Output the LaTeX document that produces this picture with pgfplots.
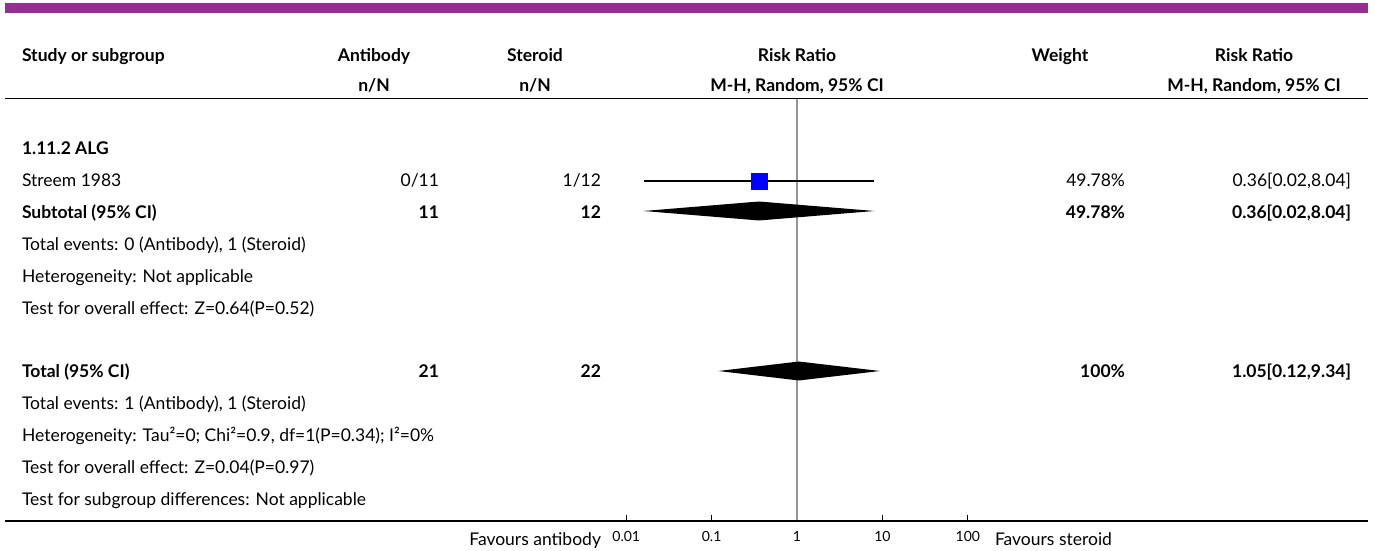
\documentclass[border=0pt]{standalone}
\usepackage{fontspec}
\setmainfont{Lato}
\usepackage{pgfplots}
\pgfplotsset{compat=1.18}
\definecolor{cpurple}{HTML}{962D91}
\definecolor{vline}{RGB}{150,150,150}
\begin{document}
\begin{tikzpicture}
\begin{axis}[name=ax, at={(0,0)}, anchor=south west,
  xmode=log, xmin=4.65e-10, xmax=5.86e6, ymin=0, ymax=521,
  width=687.5pt, height=260.5pt, scale only axis, clip=false,
  axis line style={draw=none}, hide y axis,
  xtick pos=bottom, tick align=inside, major tick length=3pt,
  xminorticks=false,
  xtick={0.01,0.1,1,10,100}, xticklabels={0.01,0.1,1,10,100},
  xtick style={black, line width=0.5pt},
  xticklabel style={font=\fontsize{7pt}{8pt}\selectfont, yshift=-1.5pt},
]
% reference line at RR = 1
\addplot[vline, line width=0.6pt] coordinates {(1,0) (1,422)};
% Streem 1983
\addplot[black, line width=0.6pt] coordinates {(0.016,340) (8.04,340)};
\addplot[only marks, mark=square*, mark size=4pt, mark options={fill=blue, draw=blue}] coordinates {(0.36,340)};
\addplot[black, line width=0.5pt] coordinates {(0.36,335.5) (0.36,344.5)};
% Subtotal diamond
\addplot[fill=black, draw=none] coordinates {(0.016,310) (0.36,319.5) (8.04,310) (0.36,300.5)} -- cycle;
% Total diamond
\addplot[fill=black, draw=none] coordinates {(0.12,150) (1.05,159.5) (9.34,150) (1.05,140.5)} -- cycle;
\end{axis}
\begin{scope}[shift={(ax.north west)}, x=0.5pt, y=-0.5pt,
  every node/.style={inner sep=0pt, outer sep=0pt, font=\fontsize{8.75pt}{10.5pt}\selectfont}]
\fill[cpurple] (5,3) rectangle (1368,13);
\draw[black, line width=0.6pt] (5,98.5) -- (1368,98.5);
\draw[black, line width=0.6pt] (5,521) -- (1368,521);
\draw[black, line width=1pt] (617,521) -- (972,521);
% header
\node[anchor=base west] at (22,62) {\bfseries Study or subgroup};
\node[anchor=base] at (374,62) {\bfseries Antibody};
\node[anchor=base] at (374,92) {\bfseries n/N};
\node[anchor=base] at (535,62) {\bfseries Steroid};
\node[anchor=base] at (535,92) {\bfseries n/N};
\node[anchor=base] at (797,62) {\bfseries Risk Ratio};
\node[anchor=base] at (797,92) {\bfseries M-H, Random, 95\% CI};
\node[anchor=base] at (1060,62) {\bfseries Weight};
\node[anchor=base] at (1254,62) {\bfseries Risk Ratio};
\node[anchor=base] at (1254,92) {\bfseries M-H, Random, 95\% CI};
% rows
\node[anchor=base west] at (22,155) {\bfseries 1.11.2 ALG};
\node[anchor=base west] at (22,187) {Streem 1983};
\node[anchor=base east] at (439,187) {0/11};
\node[anchor=base east] at (601,187) {1/12};
\node[anchor=base east] at (1125,187) {49.78\%};
\node[anchor=base east] at (1351,187) {0.36[0.02,8.04]};
\node[anchor=base west] at (22,219) {\bfseries Subtotal (95\% CI)};
\node[anchor=base east] at (439,219) {\bfseries 11};
\node[anchor=base east] at (601,219) {\bfseries 12};
\node[anchor=base east] at (1125,219) {\bfseries 49.78\%};
\node[anchor=base east] at (1351,219) {\bfseries 0.36[0.02,8.04]};
\node[anchor=base west] at (22,251) {Total events: 0 (Antibody), 1 (Steroid)};
\node[anchor=base west] at (22,283) {Heterogeneity: Not applicable};
\node[anchor=base west] at (22,315) {Test for overall effect: Z=0.64(P=0.52)};
\node[anchor=base west] at (22,378) {\bfseries Total (95\% CI)};
\node[anchor=base east] at (439,378) {\bfseries 21};
\node[anchor=base east] at (601,378) {\bfseries 22};
\node[anchor=base east] at (1125,378) {\bfseries 100\%};
\node[anchor=base east] at (1351,378) {\bfseries 1.05[0.12,9.34]};
\node[anchor=base west] at (22,410) {Total events: 1 (Antibody), 1 (Steroid)};
\node[anchor=base west] at (22,442) {Heterogeneity: Tau²=0; Chi²=0.9, df=1(P=0.34); I²=0\%};
\node[anchor=base west] at (22,474) {Test for overall effect: Z=0.04(P=0.97)};
\node[anchor=base west] at (22,506) {Test for subgroup differences: Not applicable};
% favours
\node[anchor=base east] at (601,546) {Favours antibody};
\node[anchor=base west] at (995,546) {Favours steroid};
\pgfresetboundingbox
\path (0,0) rectangle (1375,551);
\end{scope}
\end{tikzpicture}
\end{document}
